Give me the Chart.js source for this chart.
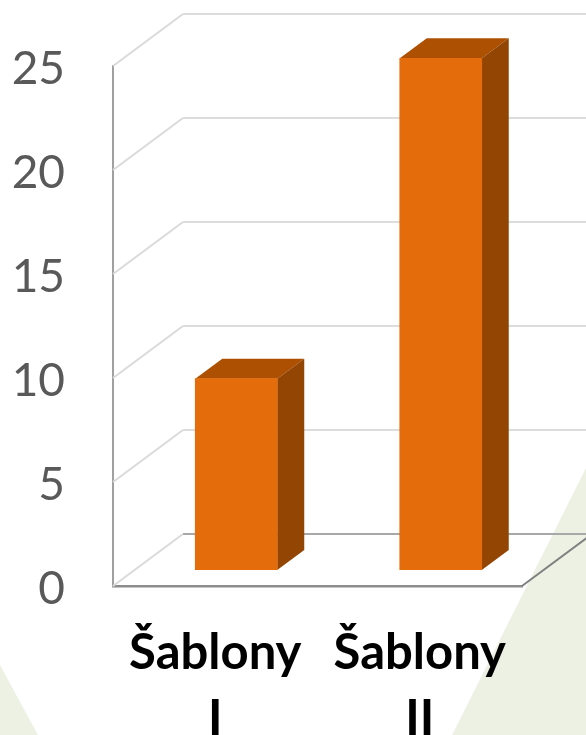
<!DOCTYPE html>
<html>
<head>
<meta charset="utf-8">
<style>
  html, body { margin: 0; padding: 0; background: #fff; }
  #wrap { position: relative; width: 586px; height: 735px; overflow: hidden; }
</style>
<script src="https://cdn.jsdelivr.net/npm/chart.js@4/dist/chart.umd.min.js"></script>
</head>
<body>
<div id="wrap"><canvas id="chart" width="586" height="735"></canvas></div>
<script>
'use strict';

const categories = [['Šablony', 'I'], ['Šablony', 'II']];
const values = [9.2, 24.6];
const yTicks = [0, 5, 10, 15, 20, 25];

const WALL_DX = 70;
const WALL_DY = -52;
const BAR_DX = 21;
const BAR_DY = -16;
const SIDE_DX = 27;
const SIDE_DY = -20;

function poly(ctx, pts, fill) {
    ctx.beginPath();
    pts.forEach((p, i) => (i ? ctx.lineTo(p[0], p[1]) : ctx.moveTo(p[0], p[1])));
    ctx.closePath();
    ctx.fillStyle = fill;
    ctx.fill();
}

function line(ctx, pts, color, width) {
    ctx.beginPath();
    pts.forEach((p, i) => (i ? ctx.lineTo(p[0], p[1]) : ctx.moveTo(p[0], p[1])));
    ctx.strokeStyle = color;
    ctx.lineWidth = width;
    ctx.stroke();
}

// pale green slide background behind the chart
const backdrop = {
    id: 'backdrop',
    beforeDraw(c) {
        const ctx = c.ctx;
        poly(ctx, [[0, 665], [38, 735], [0, 735]], '#edf1e4');
        poly(ctx, [[586, 468], [586, 735], [452, 735]], '#edf1e4');
    },
};

// left wall and back wall gridlines, floor edge
const walls = {
    id: 'walls',
    beforeDatasetsDraw(c) {
        const ctx = c.ctx;
        const { left, right, bottom } = c.chartArea;
        const y = c.scales.y;
        ctx.save();
        yTicks.forEach(t => {
            const py = y.getPixelForValue(t);
            line(ctx, [[left, py], [left + WALL_DX, py + WALL_DY]], '#dadada', 2);
            line(ctx, [[left + WALL_DX, py + WALL_DY], [right + WALL_DX, py + WALL_DY]],
                t === 0 ? '#a8a8a8' : '#dcdcdc', 2);
        });
        line(ctx, [[right, bottom], [right + WALL_DX, bottom + WALL_DY]], '#808080', 2);
        ctx.restore();
    },
};

// shifts bars into the depth of the box and adds top and side faces
const bars3d = {
    id: 'bars3d',
    beforeDatasetDraw(c) {
        const ctx = c.ctx;
        ctx.save();
        ctx.translate(BAR_DX, BAR_DY);
        c.getDatasetMeta(0).data.forEach(bar => {
            const l = bar.x - bar.width / 2;
            const r = bar.x + bar.width / 2;
            poly(ctx, [[l, bar.y], [l + SIDE_DX, bar.y + SIDE_DY], [r + SIDE_DX, bar.y + SIDE_DY], [r, bar.y]], '#ad5002');
            poly(ctx, [[r, bar.y], [r + SIDE_DX, bar.y + SIDE_DY], [r + SIDE_DX, bar.base + SIDE_DY], [r, bar.base]], '#934503');
        });
    },
    afterDatasetDraw(c) {
        c.ctx.restore();
    },
};

new Chart(document.getElementById('chart'), {
    type: 'bar',
    data: {
        labels: categories,
        datasets: [{
            data: values,
            backgroundColor: '#e46c0a',
            borderWidth: 0,
            barThickness: 82,
        }],
    },
    options: {
        responsive: false,
        animation: false,
        layout: { padding: { left: 0, right: 64, top: 66, bottom: 0 } },
        plugins: { legend: { display: false }, tooltip: { enabled: false } },
        scales: {
            x: {
                afterFit(s) { s.height = 149; s.paddingLeft = 0; s.paddingRight = 0; },
                grid: { display: false },
                border: { color: '#8c8c8c', width: 2.5 },
                ticks: {
                    color: '#000',
                    font: { family: 'Lato', size: 49, weight: 'bold', lineHeight: 1.35 },
                    maxRotation: 0,
                    autoSkip: false,
                    padding: 26,
                },
            },
            y: {
                min: 0,
                max: 25,
                afterFit(s) { s.width = 113; s.paddingTop = 0; s.paddingBottom = 0; },
                grid: { display: false },
                border: { color: '#a0a0a0', width: 2 },
                afterBuildTicks(s) { s.ticks = yTicks.map(v => ({ value: v })); },
                ticks: {
                    color: '#595959',
                    font: { family: 'Lato', size: 46 },
                    padding: 40,
                    labelOffset: 3,
                    autoSkip: false,
                },
            },
        },
    },
    plugins: [backdrop, walls, bars3d],
});
</script>
</body>
</html>
